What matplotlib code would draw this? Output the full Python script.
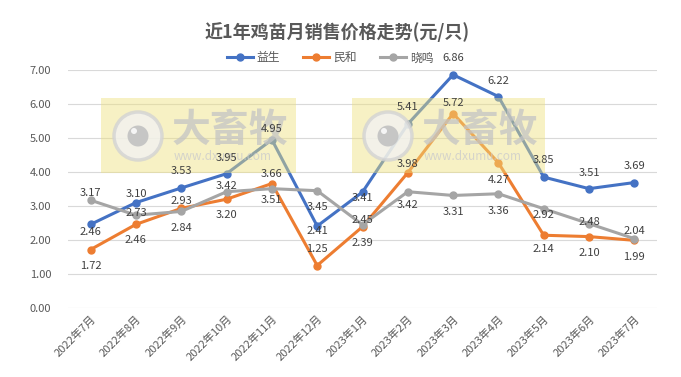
import matplotlib
matplotlib.use("Agg")
import matplotlib.pyplot as plt
from matplotlib.patches import Rectangle, Ellipse

plt.rcParams['font.family'] = ['Noto Sans CJK SC', 'DejaVu Sans']

months = ["2022年7月", "2022年8月", "2022年9月", "2022年10月", "2022年11月", "2022年12月",
          "2023年1月", "2023年2月", "2023年3月", "2023年4月", "2023年5月", "2023年6月", "2023年7月"]
yisheng = [2.46, 3.10, 3.53, 3.95, 4.95, 2.41, 3.41, 5.41, 6.86, 6.22, 3.85, 3.51, 3.69]
minhe = [1.72, 2.46, 2.93, 3.20, 3.66, 1.25, 2.39, 3.98, 5.72, 4.27, 2.14, 2.10, 1.99]
xiaoming = [3.17, 2.73, 2.84, 3.42, 3.51, 3.45, 2.45, 3.42, 3.31, 3.36, 2.92, 2.48, 2.04]
series_names = ["益生", "民和", "晓鸣"]
yticks = [0, 1, 2, 3, 4, 5, 6, 7]

# label vertical offsets in pixels (placement style)
off_y = [-8, 9, 17, 16, 11, -5, -6, 17, 17, 16, 17, 16, 17]
off_m = [-16, -16, 7, -16, 10, 17, -16, 9, 11, -17, -14, -16, -17]
off_x = [7, 2, -17, 6, -11, -16, 5, -13, -17, -17, -6, 2, 8]

colors = ["#4472C4", "#ED7D31", "#A5A5A5"]
W, H = 681, 377
fig = plt.figure(figsize=(W / 100, H / 100), dpi=100)
pos = [68 / W, 1 - 308 / H, (657 - 68) / W, (308 - 70) / H]
ax = fig.add_axes(pos, zorder=0)
lab = fig.add_axes(pos, zorder=10)
lab.set_axis_off()

x = list(range(len(months)))
for vals, offs, c, name in zip([yisheng, minhe, xiaoming], [off_y, off_m, off_x], colors, series_names):
    ax.plot(x, vals, color=c, lw=2.2, marker='o', markersize=5, label=name, zorder=3)
    for xi, v, o in zip(x, vals, offs):
        lab.annotate(f"{v:.2f}", (xi, v), xytext=(0, o), textcoords='offset pixels',
                     ha='center', va='center', fontsize=8, color='#404040')

for a in (ax, lab):
    a.set_xlim(-0.5, len(months) - 0.5)
    a.set_ylim(0, 7)
ax.set_yticks(yticks)
ax.set_yticklabels([f"{t:.2f}" for t in yticks], fontsize=8, color='#595959')
ax.set_xticks(x)
ax.set_xticklabels(months, rotation=45, ha='right', va='top', rotation_mode='anchor',
                   fontsize=8, color='#595959')
ax.tick_params(axis='both', length=0)
ax.tick_params(axis='y', pad=12)
ax.tick_params(axis='x', pad=4)
ax.grid(axis='y', color='#D9D9D9', lw=0.8)
ax.set_axisbelow(True)
for s in ax.spines.values():
    s.set_visible(False)

fig.text(337 / W, 1 - 32 / H, "近1年鸡苗月销售价格走势(元/只)", ha='center', va='center',
         fontsize=13, fontweight='bold', color='#595959')

leg = fig.legend(*ax.get_legend_handles_labels(), loc='center', bbox_to_anchor=(330 / W, 1 - 58 / H),
                 ncol=3, frameon=False, fontsize=8.5, handlelength=2.2, columnspacing=2.0,
                 handletextpad=0.3)
for t in leg.get_texts():
    t.set_color('#595959')

# watermarks
def watermark(x0, x1, cx):
    y0, y1 = 98, 173
    cy = 136
    fig.add_artist(Rectangle((x0 / W, 1 - y1 / H), (x1 - x0) / W, (y1 - y0) / H,
                             transform=fig.transFigure, facecolor='#EEE07C', edgecolor='none',
                             alpha=0.45, zorder=5))
    fig.add_artist(Ellipse((cx / W, 1 - cy / H), 48 / W, 48 / H, transform=fig.transFigure,
                           facecolor='#F2F2F2', edgecolor='#D3D3D3', lw=2.5, alpha=0.8, zorder=6))
    fig.add_artist(Ellipse((cx / W, 1 - cy / H), 21 / W, 21 / H, transform=fig.transFigure,
                           facecolor='#C2C2C2', edgecolor='none', alpha=0.9, zorder=7))
    fig.add_artist(Ellipse(((cx - 4) / W, 1 - (cy - 5) / H), 6 / W, 6 / H, transform=fig.transFigure,
                           facecolor='#F5F5F5', edgecolor='none', zorder=8))
    fig.text((cx + 34) / W, 1 - 130 / H, "大畜牧", ha='left', va='center', fontsize=28,
             fontweight='bold', color='#C4C4C4', alpha=0.75, zorder=7)
    fig.text((cx + 36) / W, 1 - 157 / H, "www.dxumu.com", ha='left', va='center', fontsize=8.5,
             color='#CCCCCC', alpha=0.8, zorder=7)

watermark(101, 296, 138)
watermark(352, 545, 388)

fig.savefig("out.png", dpi=100)
